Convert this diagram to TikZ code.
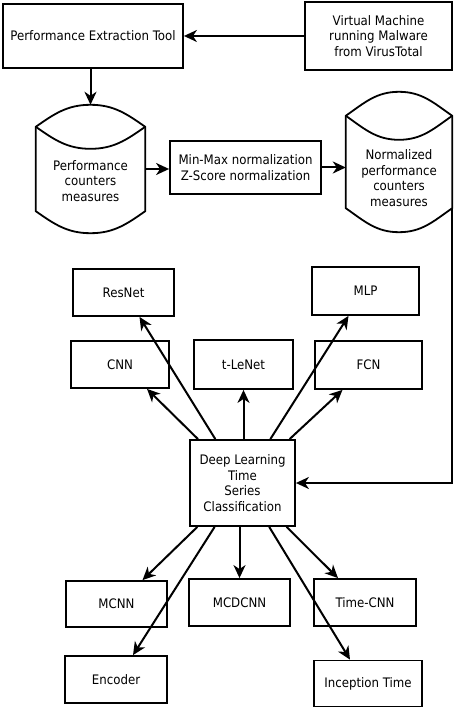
\documentclass[tikz,border=0pt]{standalone}
\usepackage{fontspec}
\setmainfont[FakeStretch=0.9]{DejaVu Sans}
\usetikzlibrary{arrows.meta,calc}

% outline of a storage drum around node #1, cap depth #2
\newcommand{\drumline}[2]{%
 \draw[line width=1.8pt]
  ($(#1.north west)+(0,-#2)$) to[out=35,in=180] (#1.north)
  to[out=0,in=145] ($(#1.north east)+(0,-#2)$)
  -- ($(#1.south east)+(0,#2)$) to[out=-145,in=0] (#1.south)
  to[out=180,in=-35] ($(#1.south west)+(0,#2)$) -- cycle;
 \draw[line width=1.8pt]
  ($(#1.north west)+(0,-#2)$) to[out=-35,in=180] ($(#1.north)+(0,-2*#2)$)
  to[out=0,in=-145] ($(#1.north east)+(0,-#2)$);
}

\begin{document}
\begin{tikzpicture}[x=1pt,y=1pt,
  font=\fontsize{13.1}{15.5}\selectfont,
  box/.style={draw, line width=1.8pt, align=center, inner sep=2pt},
  store/.style={inner sep=0pt},
  flow/.style={-{Stealth[length=13pt,width=12pt,inset=4pt]}, line width=2pt}]
 \useasboundingbox (0,0) rectangle (454,-708);

 % acquisition
 \node[box, minimum width=180pt, minimum height=64pt] (pet) at (93,-36) {Performance Extraction Tool};
 \node[box, minimum width=147pt, minimum height=68pt] (vm) at (378.5,-36) {Virtual Machine\\running Malware\\from VirusTotal};

 \node[store, minimum width=109pt, minimum height=128pt] (meas) at (90.5,-169) {};
 \node[align=center] (meastxt) at ([yshift=-12pt]meas.center) {Performance\\counters\\measures};
 \drumline{meas}{22}

 \node[box, minimum width=151pt, minimum height=53pt] (minmax) at (245.5,-167.5) {Min-Max normalization\\Z-Score normalization};

 \node[store, minimum width=106pt, minimum height=140pt] (normmeas) at (399,-162) {};
 \node[align=center] (normtxt) at ([yshift=-16pt]normmeas.center) {Normalized\\performance\\counters\\measures};
 \drumline{normmeas}{24}
 \coordinate (normout) at ($(normmeas.south east)+(0,24)$);

 % classifier
 \node[box, minimum width=105pt, minimum height=86pt] (dl) at (242.5,-483) {Deep Learning\\Time\\Series\\Classification};

 \node[box, minimum width=101pt, minimum height=47pt] (resnet) at (123.5,-292.5) {ResNet};
 \node[box, minimum width=107pt, minimum height=48pt] (mlp) at (365.5,-291) {MLP};
 \node[box, minimum width=98pt, minimum height=47pt] (cnn) at (120,-364.5) {CNN};
 \node[box, minimum width=99pt, minimum height=49pt] (tlenet) at (243.5,-364.5) {t-LeNet};
 \node[box, minimum width=107pt, minimum height=48pt] (fcn) at (368.5,-365) {FCN};

 \node[box, minimum width=101pt, minimum height=46pt] (mcnn) at (116.5,-604) {MCNN};
 \node[box, minimum width=101pt, minimum height=47pt] (mcdcnn) at (239.5,-602.5) {MCDCNN};
 \node[box, minimum width=102pt, minimum height=47pt] (timecnn) at (365,-602.5) {Time-CNN};
 \node[box, minimum width=102pt, minimum height=47pt] (encoder) at (116,-679.5) {Encoder};
 \node[box, minimum width=108pt, minimum height=46pt] (incep) at (368,-683.5) {Inception Time};

 \draw[flow] (vm) -- (pet);
 \draw[flow] (pet.south -| meas.north) -- (meas.north);
 \draw[flow] (meas.east) -- (meas.east -| minmax.west);
 \draw[flow] (minmax.east) -- (minmax.east -| normmeas.west);
 \draw[flow] (normout) |- (dl.east);

 \draw[flow] (dl) -- ([xshift=16pt]resnet.south);
 \draw[flow] (dl) -- ([xshift=27pt]cnn.south);
 \draw[flow] (dl.north -| tlenet.south) -- (tlenet.south);
 \draw[flow] (dl) -- ([xshift=-17pt]mlp.south);
 \draw[flow] (dl) -- ([xshift=-26pt]fcn.south);

 \draw[flow] (dl) -- ([xshift=26pt]mcnn.north);
 \draw[flow] (dl) -- ([xshift=17pt]encoder.north);
 \draw[flow] (dl.south -| mcdcnn.north) -- (mcdcnn.north);
 \draw[flow] (dl) -- ([xshift=-27pt]timecnn.north);
 \draw[flow] (dl) -- ([xshift=-18pt]incep.north);
\end{tikzpicture}
\end{document}
